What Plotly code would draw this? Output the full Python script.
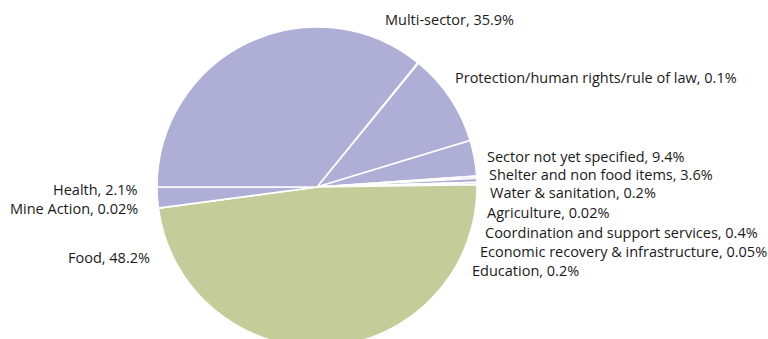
import plotly.graph_objects as go

# ─── data (clockwise from the upper-right) ────────────────────────────────────
sectors = [
    "Protection/human rights/rule of law", "Sector not yet specified",
    "Shelter and non food items", "Water & sanitation", "Agriculture",
    "Coordination and support services", "Economic recovery & infrastructure",
    "Education", "Food", "Mine Action", "Health", "Multi-sector",
]
shares = [0.1, 9.4, 3.6, 0.2, 0.02, 0.4, 0.05, 0.2, 48.2, 0.02, 2.1, 35.9]
share_text = ["0.1", "9.4", "3.6", "0.2", "0.02", "0.4", "0.05", "0.2",
              "48.2", "0.02", "2.1", "35.9"]

# label placement in pixels (x, y, anchor)
label_pos = [
    (453, 78, "left"), (485, 156, "left"), (487, 174, "left"),
    (488, 193, "left"), (485, 212, "left"), (483, 232, "left"),
    (478, 251, "left"), (470, 270, "left"), (152, 257, "right"),
    (140, 208, "right"), (140, 189, "right"), (383, 20, "left"),
]

PURPLE = "#AEAED6"
GREEN = "#C4CD99"
W, H = 768, 374
cx, cy, r = 317, 187, 160

colors = [GREEN if s == "Food" else PURPLE for s in sectors]

fig = go.Figure(go.Pie(
    labels=sectors, values=shares, sort=False, direction="clockwise",
    rotation=39, textinfo="none", hoverinfo="label+percent",
    marker=dict(colors=colors, line=dict(color="white", width=1.5)),
    domain=dict(x=[(cx - r) / W, (cx + r) / W],
                y=[1 - (cy + r) / H, 1 - (cy - r) / H]),
    showlegend=False,
))

for name, pct, (x, y, anchor) in zip(sectors, share_text, label_pos):
    fig.add_annotation(
        x=x / W, y=1 - y / H, xref="paper", yref="paper",
        text=f"{name}, {pct}%", showarrow=False,
        xanchor=anchor, yanchor="middle",
        font=dict(family="Open Sans", size=14.5, color="#1a1a1a"),
    )

fig.update_layout(
    width=W, height=H, margin=dict(l=0, r=0, t=0, b=0),
    paper_bgcolor="white", plot_bgcolor="white",
)

fig.write_html("out.html", config={"displayModeBar": False},
               post_script="document.body.style.overflow='hidden';document.body.style.margin='0';")
